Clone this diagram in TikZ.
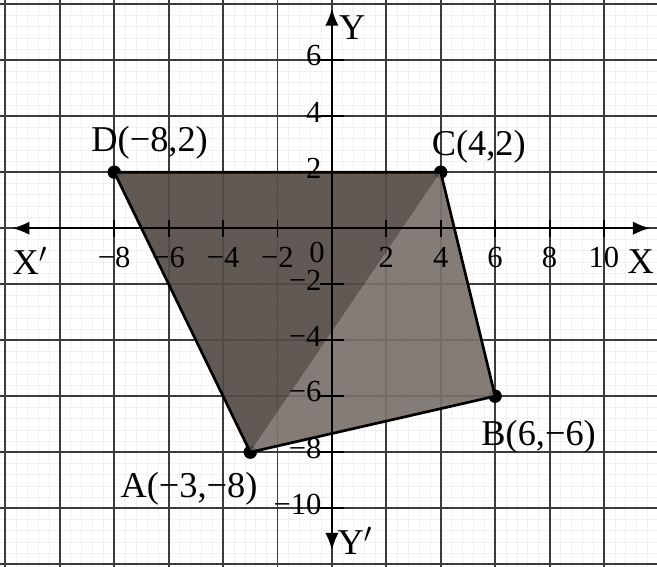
\documentclass[tikz,border=0pt]{standalone}
\usepackage{fontspec}
\setmainfont{Liberation Serif}
\usetikzlibrary{arrows.meta}
\definecolor{quadDark}{RGB}{84,76,70}
\definecolor{quadLight}{RGB}{122,114,108}
\definecolor{gridGray}{RGB}{60,60,60}

\begin{document}
\begin{tikzpicture}[x=0.5cm,y=0.5146cm,
  dot/.style={circle, fill=black, inner sep=0pt, minimum size=7pt},
  ptlabel/.style={font=\fontsize{19}{22}\selectfont},
  ticklabel/.style={font=\fontsize{16}{18}\selectfont, inner sep=1pt}]
\useasboundingbox (-12.2,-12.1) rectangle (11.95,8.15);
\fill[white] (-12.2,-12.1) rectangle (11.95,8.15);
\draw[black!6, line width=0.3pt, step=0.4] (-12.2,-12.1) grid (11.95,8.15);
\draw[gridGray, line width=1pt, step=2] (-12.2,-12.1) grid (11.95,8.15);
% vertices
\node[dot] (A) at (-3,-8) {};
\node[dot] (B) at (6,-6) {};
\node[dot] (C) at (4,2) {};
\node[dot] (D) at (-8,2) {};
\fill[quadDark, opacity=0.92] (D.center) -- (C.center) -- (A.center) -- cycle;
\fill[quadLight, opacity=0.92] (A.center) -- (B.center) -- (C.center) -- cycle;
\draw[line width=1.4pt] (A.center) -- (B.center) -- (C.center) -- (D.center) -- cycle;
% axes
\draw[line width=1.2pt, {Latex[length=9pt,width=7pt]}-{Latex[length=9pt,width=7pt]}] (-11.75,0) -- (11.7,0);
\draw[line width=1.2pt, {Latex[length=9pt,width=7pt]}-{Latex[length=9pt,width=7pt]}] (0,-11.5) -- (0,7.85);
\node[ptlabel] (xneg) at (-11.1,-1.15) {X$'$};
\node[ptlabel] (xpos) at (11.35,-1.2) {X};
\node[ptlabel] (ypos) at (0.75,7.15) {Y};
\node[ptlabel] (yneg) at (0.85,-11.15) {Y$'$};
\foreach \t in {-8,-6,-4,-2,2,4,6,8,10} {
  \draw[line width=1pt] (\t,-0.3) -- (\t,0.3);
  \node[ticklabel] at (\t,-1.05) {\ifnum\t<0 −\the\numexpr-\t\relax\else\t\fi};
}
\node[ticklabel] (orig) at (-0.55,-0.85) {0};
\foreach \t in {6,4,2,-2,-4,-6,-8,-10} {
  \draw[line width=1pt] (-0.45,\t) -- (0.45,\t);
  \node[ticklabel, anchor=east] at (-0.3,\t+0.15) {\ifnum\t<0 −\the\numexpr-\t\relax\else\t\fi};
}
% vertex labels
\node[ptlabel] (labD) at (-6.7,3.05) {D(−8,2)};
\node[ptlabel] (labC) at (5.4,2.9) {C(4,2)};
\node[ptlabel] (labB) at (7.6,-7.45) {B(6,−6)};
\node[ptlabel] (labA) at (-5.25,-9.3) {A(−3,−8)};
\end{tikzpicture}
\end{document}
